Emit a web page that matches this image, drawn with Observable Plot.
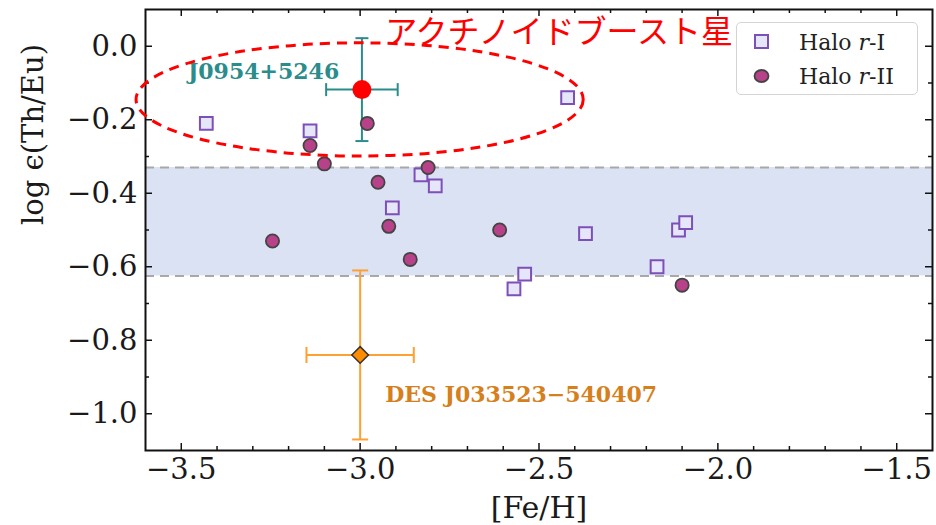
<!DOCTYPE html>
<html><head><meta charset="utf-8">
<script src="https://cdn.jsdelivr.net/npm/d3@7"></script>
<script src="https://cdn.jsdelivr.net/npm/@observablehq/plot@0.6"></script>
<style>
body{margin:0;background:#fff;}
#wrap{position:relative;width:936px;height:525px;}
#legend{position:absolute;left:736px;top:22px;width:182px;height:73px;border:1px solid #d4d4d4;border-radius:5px;background:rgba(255,255,255,0.8);box-sizing:border-box;font-family:"DejaVu Serif";font-size:22px;color:#222;}
.item{position:absolute;left:8px;height:30px;display:flex;align-items:center;white-space:nowrap;}
.item svg{margin-right:20px;}
</style></head>
<body><div id="wrap"></div>
<script>
// ---- data ----
const haloRI_feh  = [-3.43, -3.14, -2.42, -2.83, -2.79, -2.91, -2.37, -2.54, -2.57, -2.11, -2.09, -2.17];
const haloRI_theu = [-0.21, -0.23, -0.14, -0.35, -0.38, -0.44, -0.51, -0.62, -0.66, -0.50, -0.48, -0.60];
const haloRII_feh  = [-3.14, -3.10, -2.98, -2.95, -2.92, -2.81, -3.245, -2.86, -2.61, -2.10];
const haloRII_theu = [-0.27, -0.32, -0.21, -0.37, -0.49, -0.33, -0.53, -0.58, -0.50, -0.65];

const starNames   = ["J0954+5246", "DES J033523\u2212540407"];
const starFeh     = [-2.995, -3.0];
const starTheu    = [-0.118, -0.84];
const starFehErr  = [0.10, 0.15];
const starTheuErr = [0.14, 0.23];
const starLabelX  = [-3.27, -2.93];
const starLabelY  = [-0.07, -0.95];

const bandRange = [-0.625, -0.33];
const ellipseCenter = [-3.0, -0.146];
const ellipseRadii  = [0.625, 0.154];
const jpText = "アクチノイドブースト星";
const jpPos = [-2.93, 0.036];

const xDomain = [-3.6, -1.4];
const yDomain = [-1.1, 0.1];
const xMajor = [-3.5, -3.0, -2.5, -2.0, -1.5];
const yMajor = [-1.0, -0.8, -0.6, -0.4, -0.2, 0.0];
const xMinor = d3.range(-35, -14).map(v => v / 10).filter(v => !xMajor.some(m => Math.abs(m - v) < 1e-9));
const yMinor = d3.range(-10, 1).map(v => v / 10).filter(v => !yMajor.some(m => Math.abs(m - v) < 1e-9));

// ---- layout ----
const W = 936, H = 525, mL = 145, mR = 4, mT = 9, mB = 75;
const innerH = H - mT - mB, innerW = W - mL - mR;
const majLen = 7, minLen = 4;

const haloRI = haloRI_feh.map((x, i) => ({x, y: haloRI_theu[i]}));
const haloRII = haloRII_feh.map((x, i) => ({x, y: haloRII_theu[i]}));
const stars = starNames.map((name, i) => ({name, x: starFeh[i], y: starTheu[i], ex: starFehErr[i], ey: starTheuErr[i], lx: starLabelX[i], ly: starLabelY[i]}));
const j0954 = [stars[0]], des = [stars[1]];

const capH = {draw(ctx, size) { const r = Math.sqrt(size / Math.PI); ctx.moveTo(-r, 0); ctx.lineTo(r, 0); }};
const capV = {draw(ctx, size) { const r = Math.sqrt(size / Math.PI); ctx.moveTo(0, -r); ctx.lineTo(0, r); }};

function errorBars(data, color, capR) {
  return [
    Plot.ruleX(data, {x: "x", y1: d => d.y - d.ey, y2: d => d.y + d.ey, stroke: color, strokeWidth: 2}),
    Plot.ruleY(data, {y: "y", x1: d => d.x - d.ex, x2: d => d.x + d.ex, stroke: color, strokeWidth: 2}),
    Plot.dot(data.flatMap(d => [{x: d.x, y: d.y - d.ey}, {x: d.x, y: d.y + d.ey}]), {x: "x", y: "y", symbol: capH, r: capR, stroke: color, strokeWidth: 2, fill: "none"}),
    Plot.dot(data.flatMap(d => [{x: d.x - d.ex, y: d.y}, {x: d.x + d.ex, y: d.y}]), {x: "x", y: "y", symbol: capV, r: capR, stroke: color, strokeWidth: 2, fill: "none"})
  ];
}

const tickStyle = {stroke: "#111", strokeWidth: 1.5};
const teal = "#2b8c8c", orange = "#ffa033";

const plot = Plot.plot({
  width: W, height: H,
  marginLeft: mL, marginRight: mR, marginTop: mT, marginBottom: mB,
  style: {fontFamily: "DejaVu Serif", fontSize: "29px", color: "#1a1a1a", background: "white", overflow: "visible"},
  x: {domain: xDomain, ticks: xMajor, tickSize: 0, tickPadding: 8, tickFormat: d3.format(".1f"), label: null},
  y: {domain: yDomain, ticks: yMajor, tickSize: 0, tickPadding: 8, tickFormat: d3.format(".1f"), label: null},
  marks: [
    Plot.rect([bandRange], {y1: d => d[0], y2: d => d[1], fill: "#dae2f3"}),
    Plot.ruleY(bandRange, {y: d => d, stroke: "#a8a8a8", strokeWidth: 2, strokeDasharray: "9,6"}),
    ...errorBars(des, orange, 8),
    ...errorBars(j0954, teal, 6.5),
    Plot.dot(haloRI, {x: "x", y: "y", symbol: "square", r: 7.2, fill: "#e6e6fa", stroke: "#7d4fb8", strokeWidth: 2}),
    Plot.dot(haloRII, {x: "x", y: "y", r: 6.6, fill: "#b8428a", stroke: "#444", strokeWidth: 1.8}),
    Plot.dot(j0954, {x: "x", y: "y", r: 9.5, fill: "#ff0000"}),
    Plot.dot(des, {x: "x", y: "y", symbol: "diamond2", r: 7.5, fill: "#ff8c00", stroke: "#333", strokeWidth: 1.5}),
    Plot.text(j0954, {x: "lx", y: "ly", text: "name", fill: teal, fontWeight: "bold", fontSize: 22, fontFamily: "DejaVu Serif", textAnchor: "middle"}),
    Plot.text(des, {x: "lx", y: "ly", text: "name", fill: "#d5801c", fontWeight: "bold", fontSize: 22, fontFamily: "DejaVu Serif", textAnchor: "start"}),
    Plot.text([jpText], {x: () => jpPos[0], y: () => jpPos[1], text: d => d, fill: "red", fontSize: 32, fontFamily: "Noto Sans CJK JP", textAnchor: "start"}),
    // ticks (inward, all sides)
    Plot.ruleX(xMajor, {x: d => d, insetTop: innerH - majLen, ...tickStyle}),
    Plot.ruleX(xMajor, {x: d => d, insetBottom: innerH - majLen, ...tickStyle}),
    Plot.ruleX(xMinor, {x: d => d, insetTop: innerH - minLen, ...tickStyle}),
    Plot.ruleX(xMinor, {x: d => d, insetBottom: innerH - minLen, ...tickStyle}),
    Plot.ruleY(yMajor, {y: d => d, insetRight: innerW - majLen, ...tickStyle}),
    Plot.ruleY(yMajor, {y: d => d, insetLeft: innerW - majLen, ...tickStyle}),
    Plot.ruleY(yMinor, {y: d => d, insetRight: innerW - minLen, ...tickStyle}),
    Plot.ruleY(yMinor, {y: d => d, insetLeft: innerW - minLen, ...tickStyle}),
    Plot.frame({stroke: "#111", strokeWidth: 2}),
    Plot.text(["[Fe/H]"], {frameAnchor: "bottom", lineAnchor: "middle", dy: 58, text: d => d, fontSize: 30, fill: "#1a1a1a"}),
    Plot.text(["log \u03f5(Th/Eu)"], {frameAnchor: "left", lineAnchor: "middle", dx: -112, dy: -5, rotate: -90, text: d => d, fontSize: 29, fill: "#1a1a1a"})
  ]
});

// dashed ellipse annotation placed through the plot's scales
const sx = plot.scale("x"), sy = plot.scale("y");
const cx = sx.apply(ellipseCenter[0]), cy = sy.apply(ellipseCenter[1]);
const rx = sx.apply(ellipseCenter[0] + ellipseRadii[0]) - cx;
const ry = cy - sy.apply(ellipseCenter[1] + ellipseRadii[1]);
d3.select(plot).append("ellipse")
  .attr("cx", cx).attr("cy", cy).attr("rx", rx).attr("ry", ry)
  .attr("fill", "none").attr("stroke", "red").attr("stroke-width", 3).attr("stroke-dasharray", "10,7");

const wrap = document.getElementById("wrap");
wrap.appendChild(plot);

// legend
const legend = document.createElement("div");
legend.id = "legend";
legend.innerHTML = `
  <div class="item" style="top:4px"><svg width="34" height="30"><rect x="10" y="8" width="13" height="13" fill="#e6e6fa" stroke="#7d4fb8" stroke-width="2"/></svg><span>Halo <i>r</i>-I</span></div>
  <div class="item" style="top:38px"><svg width="34" height="30"><ellipse cx="16.5" cy="15" rx="7" ry="6" fill="#b8428a" stroke="#444" stroke-width="1.8"/></svg><span>Halo <i>r</i>-II</span></div>`;
wrap.appendChild(legend);
</script>
</body></html>
